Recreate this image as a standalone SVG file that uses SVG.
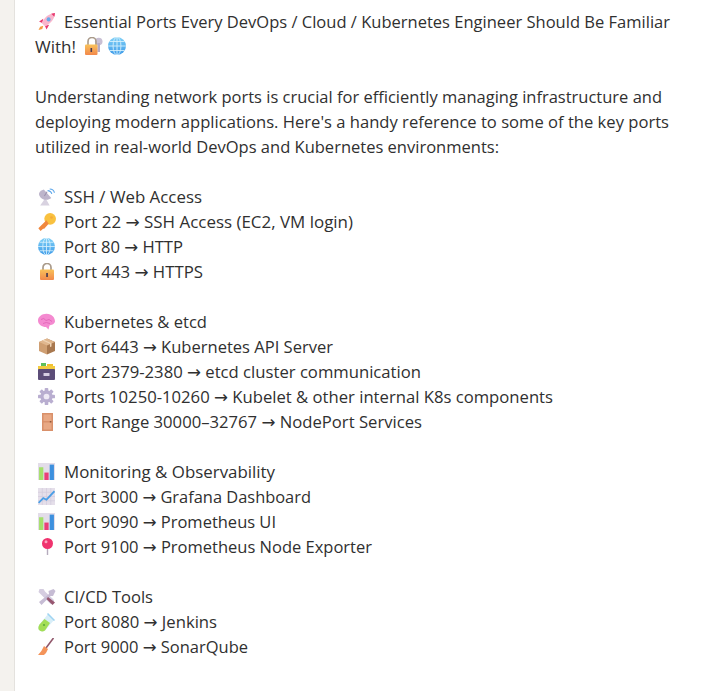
<svg xmlns="http://www.w3.org/2000/svg" width="708" height="691" viewBox="0 0 708 691">
<style>
text{font-family:"Open Sans","Noto Sans","DejaVu Sans",sans-serif;font-size:17px;fill:#303030}
</style>
<defs>
<linearGradient id="lockG" x1="0" y1="0" x2="0" y2="1"><stop offset="0" stop-color="#f9c25a"/><stop offset="1" stop-color="#f2884b"/></linearGradient>
<linearGradient id="globeG" x1="0" y1="0" x2="0" y2="1"><stop offset="0" stop-color="#7fd0f7"/><stop offset="1" stop-color="#3f9be8"/></linearGradient>
<symbol id="rocket" viewBox="0 0 16 16"><path d="M2 13 L.5 16 L4 15 L5 12Z" fill="#f59a42"/><path d="M5 5.500 L1 8 L4 9.500Z M10.500 11 L8 15.500 L6.500 12Z" fill="#e8386f"/><path d="M3.500 9.500 C6 4 10 .5 16 0 C15.500 6 12 10 6.500 12.500Z" fill="#f9b6cc"/><path d="M12.500 .7 L16 0 L15.400 3.600Z" fill="#e8386f"/><circle cx="10" cy="6" r="1.900" fill="#6aa9e8"/></symbol>
<symbol id="lockkey" viewBox="0 0 18 18"><circle cx="13.700" cy="4.500" r="3.800" fill="#c9c0d4"/><rect x="12.400" y="6" width="2.600" height="9" fill="#b5aac4"/><path d="M3 8 V4.500 A4 4 0 0 1 11 4.500 V8" fill="none" stroke="#a99a8a" stroke-width="1.600"/><rect x="0" y="7.500" width="12.500" height="10.500" rx="1" fill="url(#lockG)"/><rect x="5.500" y="11" width="1.600" height="4" fill="#4a3a50"/></symbol>
<symbol id="globe" viewBox="0 0 16 16"><circle cx="8" cy="8" r="8" fill="url(#globeG)"/><g fill="none" stroke="#d5effc" stroke-width=".8"><ellipse cx="8" cy="8" rx="3.500" ry="8"/><path d="M8 0V16M0 8H16M1.500 4H14.500M1.500 12H14.500"/></g></symbol>
<symbol id="dish" viewBox="0 0 16 16"><path d="M2 16 L7 9 L11 16Z" fill="#d8d2e0"/><path d="M1 6 C3 11 9 12 12.500 9 L5.500 1 C2 2 .5 4 1 6Z" fill="#bdb5cb"/><path d="M8.500 3 L6 7" stroke="#9d93ae" stroke-width="1"/><path d="M9 2 Q12 2 13 5" fill="none" stroke="#5aa5ea" stroke-width="1"/><path d="M11 .500 Q14.500 .500 15.500 4" fill="none" stroke="#5aa5ea" stroke-width="1"/></symbol>
<symbol id="key" viewBox="0 0 16 16"><circle cx="10.800" cy="5.200" r="5.200" fill="#f9c13f"/><path d="M7.500 6.500 L.3 13.500 L2.300 16 L4.500 14 L5.500 14 L9.500 9.500Z" fill="#f0883e"/><circle cx="12" cy="4" r="1.200" fill="#f6a93a"/></symbol>
<symbol id="lock" viewBox="0 0 14 17"><path d="M3 7 V4.500 A4 4 0 0 1 11 4.500 V7" fill="none" stroke="#a99a8a" stroke-width="1.700"/><rect x="0" y="6.500" width="14" height="10.500" rx="1" fill="url(#lockG)"/><rect x="6.200" y="10" width="1.700" height="4" fill="#4a3a50"/></symbol>
<symbol id="brain" viewBox="0 0 17 16"><path d="M0 7 C0 3 4 .2 8.500 .2 C14 .2 17 4 17 8 C16.500 11 13 11.500 11.500 12 L10.500 16 L8 13.500 C4 13.500 0 11 0 7Z" fill="#f48ad0"/><path d="M3 6 Q6 3.500 8 7 Q11 4.500 14 8 M5 10 Q8 8 12 10" fill="none" stroke="#e060b5" stroke-width=".8"/></symbol>
<symbol id="box" viewBox="0 0 16 16"><path d="M8 0 L16 3.500 V12.500 L8 16 Z" fill="#a8784f"/><path d="M8 0 L0 3.500 V12.500 L8 16 Z" fill="#cf9f72"/><path d="M0 3.500 L8 7 L16 3.500 L8 0Z" fill="#e0b78e"/><path d="M3.500 2 L11 5.300 V8.500 L12.500 8 V4.700 L5 1.300Z" fill="#efd4b5"/></symbol>
<symbol id="cabinet" viewBox="0 0 17 17"><rect x="3" y="0" width="5" height="4" fill="#5fbf5a"/><rect x="9" y="1" width="6" height="4" fill="#f2c230"/><rect x="0" y="3" width="17" height="4" fill="#f3cb3f"/><rect x="0" y="6" width="17" height="11" rx="1" fill="#5c4d78"/><rect x="5.500" y="10" width="6" height="3" rx=".5" fill="#d7cee3"/></symbol>
<symbol id="gear" viewBox="0 0 16 16"><g fill="#b9aed0"><circle cx="8" cy="8" r="5.800"/><rect x="6.300" y="0" width="3.400" height="16" rx=".8"/><rect x="0" y="6.300" width="16" height="3.400" rx=".8"/><rect x="6.300" y="0" width="3.400" height="16" rx=".8" transform="rotate(45 8 8)"/><rect x="6.300" y="0" width="3.400" height="16" rx=".8" transform="rotate(-45 8 8)"/></g><circle cx="8" cy="8" r="2.700" fill="#efeaf5"/></symbol>
<symbol id="door" viewBox="0 0 11 18"><rect x="0" y="0" width="11" height="18" fill="#d9906a"/><rect x="1.500" y="1.500" width="8" height="6.500" fill="#e8a884"/><rect x="1.500" y="9.500" width="8" height="7" fill="#e8a884"/><rect x="7.800" y="8" width="1.500" height="1.500" fill="#8e5a3c"/></symbol>
<symbol id="bars" viewBox="0 0 16 16"><rect width="16" height="16" fill="#e3dde9"/><rect x="1" y="4" width="4" height="12" fill="#a4e06a"/><rect x="6" y="9" width="4" height="7" fill="#ea3f78"/><rect x="11" y="1.500" width="4" height="14.500" fill="#3d90de"/></symbol>
<symbol id="chart" viewBox="0 0 16 16"><rect width="16" height="16" fill="#e5dfea"/><path d="M4 0V16M8 0V16M12 0V16M0 4H16M0 8H16M0 12H16" stroke="#d2cadb" stroke-width=".6"/><path d="M.500 14 L5 9.500 L8 11 L15.500 3" fill="none" stroke="#4a9ee6" stroke-width="1.700"/></symbol>
<symbol id="pin" viewBox="0 0 11 17"><rect x="4.800" y="8" width="1.400" height="9" fill="#b5abbd"/><circle cx="5.500" cy="5.500" r="5.500" fill="#f0336e"/><circle cx="4" cy="3.800" r="1.500" fill="#fba4bf"/></symbol>
<symbol id="tools" viewBox="0 0 17 17"><path d="M1 1 L0 4 L2.500 6.500 L12 16 L15.500 14.500 L15.500 12 L6.500 3.500 L5 1Z" fill="#d5cde0"/><path d="M15 1 L10 3 L10.500 6 L.5 14 L3 17 L12 8 L14.500 8 L17 3Z" fill="#c6bcd4"/><path d="M9.500 9 L16.500 14.500 L14 17 L8 11Z" fill="#96566f"/></symbol>
<symbol id="tube" viewBox="0 0 17 19"><path d="M10 1 L16 7 L7 17.500 Q3.500 19.500 1 17 Q-.5 14.500 1.500 11.500Z" fill="#d8eef8"/><path d="M6.500 6 L12 10 L7 17.500 Q3.500 19.500 1 17 Q-.5 14.500 1.500 11.500Z" fill="#a3de55"/><path d="M9.500 .500 L16.500 7.500" stroke="#9fd4f2" stroke-width="1.500"/><circle cx="6" cy="12" r="1.100" fill="#5cab3c"/></symbol>
<symbol id="broom" viewBox="0 0 17 17"><path d="M15.500 0 L8 10" stroke="#90566a" stroke-width="1.600"/><path d="M6 8 L10 11 Q8.500 15 6 17 H0 Q3.500 14 6 8Z" fill="#f4945a"/></symbol>
</defs>
<g id="page">
<rect width="708" height="691" fill="#fff"/>
<rect width="14" height="691" fill="#f4f2ee"/>
<rect x="14" width="1" height="691" fill="#e4e2de"/>
</g>
<g id="icons">
<use href="#rocket" x="38" y="13" width="17" height="17"/>
<use href="#lockkey" x="85" y="37" width="18" height="18"/>
<use href="#globe" x="108" y="37" width="18" height="18"/>
<use href="#dish" x="38" y="188" width="17" height="18"/>
<use href="#key" x="38" y="213" width="18" height="18"/>
<use href="#globe" x="38" y="238" width="17" height="17"/>
<use href="#lock" x="40" y="263" width="14" height="17"/>
<use href="#brain" x="38" y="313" width="17" height="17"/>
<use href="#box" x="39" y="338" width="16" height="17"/>
<use href="#cabinet" x="38" y="363" width="17" height="17"/>
<use href="#gear" x="38" y="388" width="17" height="17"/>
<use href="#door" x="42" y="413" width="11" height="18"/>
<use href="#bars" x="38" y="463" width="17" height="17"/>
<use href="#chart" x="38" y="488" width="17" height="17"/>
<use href="#bars" x="38" y="513" width="17" height="17"/>
<use href="#pin" x="42" y="538" width="11" height="17"/>
<use href="#tools" x="38" y="588" width="18" height="17"/>
<use href="#tube" x="38" y="613" width="17" height="19"/>
<use href="#broom" x="38" y="638" width="17" height="17"/>
</g>
<g id="content">
<text x="64" y="28" textLength="606" lengthAdjust="spacingAndGlyphs">Essential Ports Every DevOps / Cloud / Kubernetes Engineer Should Be Familiar</text>
<text x="35" y="53" textLength="41" lengthAdjust="spacingAndGlyphs">With!</text>
<text x="35" y="103" textLength="627" lengthAdjust="spacingAndGlyphs">Understanding network ports is crucial for efficiently managing infrastructure and</text>
<text x="35" y="128" textLength="634" lengthAdjust="spacingAndGlyphs">deploying modern applications. Here's a handy reference to some of the key ports</text>
<text x="35" y="153" textLength="464" lengthAdjust="spacingAndGlyphs">utilized in real-world DevOps and Kubernetes environments:</text>
<text x="64" y="203" textLength="138" lengthAdjust="spacingAndGlyphs">SSH / Web Access</text>
<text x="64" y="228" textLength="289" lengthAdjust="spacingAndGlyphs">Port 22 → SSH Access (EC2, VM login)</text>
<text x="64" y="253" textLength="119" lengthAdjust="spacingAndGlyphs">Port 80 → HTTP</text>
<text x="64" y="278" textLength="139" lengthAdjust="spacingAndGlyphs">Port 443 → HTTPS</text>
<text x="64" y="328" textLength="143" lengthAdjust="spacingAndGlyphs">Kubernetes &amp; etcd</text>
<text x="64" y="353" textLength="269" lengthAdjust="spacingAndGlyphs">Port 6443 → Kubernetes API Server</text>
<text x="64" y="378" textLength="357" lengthAdjust="spacingAndGlyphs">Port 2379-2380 → etcd cluster communication</text>
<text x="64" y="403" textLength="489" lengthAdjust="spacingAndGlyphs">Ports 10250-10260 → Kubelet &amp; other internal K8s components</text>
<text x="64" y="428" textLength="358" lengthAdjust="spacingAndGlyphs">Port Range 30000–32767 → NodePort Services</text>
<text x="64" y="478" textLength="211" lengthAdjust="spacingAndGlyphs">Monitoring &amp; Observability</text>
<text x="64" y="503" textLength="247" lengthAdjust="spacingAndGlyphs">Port 3000 → Grafana Dashboard</text>
<text x="64" y="528" textLength="212" lengthAdjust="spacingAndGlyphs">Port 9090 → Prometheus UI</text>
<text x="64" y="553" textLength="308" lengthAdjust="spacingAndGlyphs">Port 9100 → Prometheus Node Exporter</text>
<text x="64" y="603" textLength="89" lengthAdjust="spacingAndGlyphs">CI/CD Tools</text>
<text x="64" y="628" textLength="153" lengthAdjust="spacingAndGlyphs">Port 8080 → Jenkins</text>
<text x="64" y="653" textLength="184" lengthAdjust="spacingAndGlyphs">Port 9000 → SonarQube</text>
</g>
</svg>
